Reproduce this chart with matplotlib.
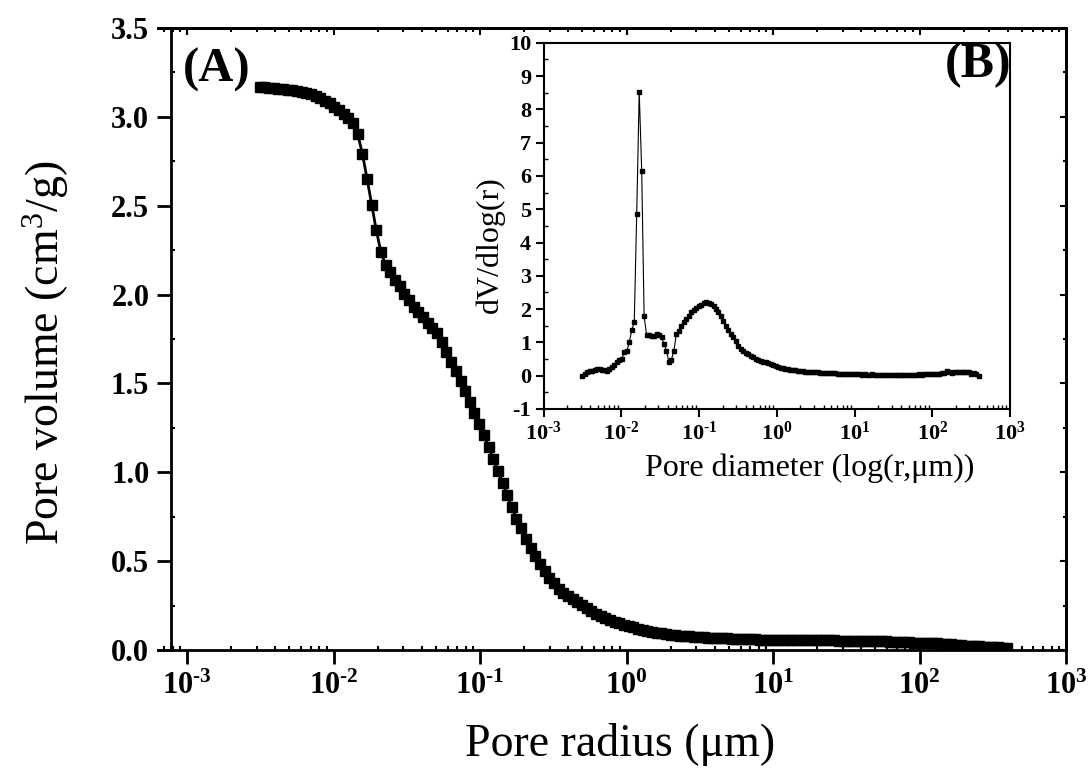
import numpy as np
import matplotlib
matplotlib.use('Agg')
import matplotlib.pyplot as plt
from matplotlib.ticker import FixedLocator, LogLocator, MultipleLocator, FuncFormatter, NullFormatter

plt.rcParams['font.family'] = ['Liberation Serif', 'DejaVu Serif']
plt.rcParams['mathtext.fontset'] = 'custom'
plt.rcParams['mathtext.rm'] = 'Liberation Serif'
plt.rcParams['mathtext.bf'] = 'Liberation Serif:bold'
plt.rcParams['mathtext.it'] = 'Liberation Serif:italic'

# pore radius, read as log10(r / um), one value per measured point
log_r = [
    -2.505, -2.473, -2.441, -2.409, -2.377, -2.346, -2.314, -2.282, -2.250, -2.218,
    -2.186, -2.154, -2.122, -2.090, -2.058, -2.027, -1.995, -1.963, -1.931, -1.899,
    -1.867, -1.835, -1.803, -1.771, -1.739, -1.708, -1.676, -1.644, -1.612, -1.580,
    -1.548, -1.516, -1.484, -1.452, -1.420, -1.389, -1.357, -1.325, -1.293, -1.261,
    -1.229, -1.197, -1.165, -1.133, -1.101, -1.070, -1.038, -1.006, -0.974, -0.942,
    -0.910, -0.878, -0.846, -0.814, -0.782, -0.751, -0.719, -0.687, -0.655, -0.623,
    -0.591, -0.559, -0.527, -0.495, -0.463, -0.432, -0.400, -0.368, -0.336, -0.304,
    -0.272, -0.240, -0.208, -0.176, -0.144, -0.113, -0.081, -0.049, -0.017, 0.015,
    0.047, 0.079, 0.111, 0.143, 0.175, 0.206, 0.238, 0.270, 0.302, 0.334,
    0.366, 0.398, 0.430, 0.462, 0.494, 0.526, 0.557, 0.589, 0.621, 0.653,
    0.685, 0.717, 0.749, 0.781, 0.813, 0.845, 0.876, 0.908, 0.940, 0.972,
    1.004, 1.036, 1.068, 1.100, 1.132, 1.164, 1.195, 1.227, 1.259, 1.291,
    1.323, 1.355, 1.387, 1.419, 1.451, 1.483, 1.514, 1.546, 1.578, 1.610,
    1.642, 1.674, 1.706, 1.738, 1.770, 1.802, 1.833, 1.865, 1.897, 1.929,
    1.961, 1.993, 2.025, 2.057, 2.089, 2.121, 2.152, 2.184, 2.216, 2.248,
    2.280, 2.312, 2.344, 2.376, 2.408, 2.440, 2.471, 2.503, 2.535, 2.567,
    2.599,
]

# cumulative pore volume (cm3/g)
volume = [
    3.168, 3.166, 3.164, 3.161, 3.158, 3.155, 3.152, 3.149, 3.145, 3.140,
    3.134, 3.127, 3.118, 3.106, 3.092, 3.076, 3.058, 3.038, 3.017, 2.994,
    2.967, 2.904, 2.793, 2.652, 2.504, 2.362, 2.238, 2.166, 2.125, 2.084,
    2.046, 2.005, 1.967, 1.930, 1.900, 1.872, 1.840, 1.812, 1.786, 1.735,
    1.677, 1.622, 1.568, 1.514, 1.456, 1.397, 1.336, 1.273, 1.209, 1.144,
    1.076, 1.010, 0.940, 0.870, 0.804, 0.738, 0.685, 0.625, 0.573, 0.527,
    0.482, 0.443, 0.406, 0.375, 0.346, 0.323, 0.303, 0.285, 0.268, 0.251,
    0.236, 0.220, 0.205, 0.192, 0.180, 0.170, 0.160, 0.150, 0.142, 0.134,
    0.127, 0.120, 0.114, 0.108, 0.103, 0.098, 0.094, 0.090, 0.087, 0.084,
    0.081, 0.079, 0.077, 0.075, 0.073, 0.071, 0.070, 0.068, 0.067, 0.066,
    0.065, 0.064, 0.063, 0.062, 0.061, 0.060, 0.060, 0.059, 0.058, 0.058,
    0.057, 0.057, 0.057, 0.056, 0.056, 0.056, 0.056, 0.056, 0.055, 0.055,
    0.055, 0.054, 0.054, 0.054, 0.053, 0.053, 0.052, 0.052, 0.051, 0.051,
    0.050, 0.050, 0.049, 0.049, 0.048, 0.047, 0.046, 0.045, 0.044, 0.043,
    0.042, 0.041, 0.040, 0.039, 0.038, 0.037, 0.035, 0.033, 0.031, 0.029,
    0.027, 0.025, 0.023, 0.022, 0.020, 0.019, 0.018, 0.017, 0.015, 0.013,
    0.012,
]

# pore size distribution dV/dlog(r) for the inset
dv_dlogr = [
    0.00, 0.05, 0.10, 0.13, 0.15, 0.17, 0.19, 0.20, 0.17, 0.17,
    0.15, 0.20, 0.25, 0.32, 0.40, 0.47, 0.50, 0.71, 0.73, 1.00,
    1.37, 1.60, 4.87, 8.53, 6.15, 1.78, 1.23, 1.22, 1.18, 1.20,
    1.25, 1.22, 1.15, 0.95, 0.75, 0.40, 0.48, 0.75, 1.25, 1.35,
    1.50, 1.60, 1.70, 1.80, 1.90, 1.97, 2.03, 2.08, 2.13, 2.17,
    2.20, 2.19, 2.16, 2.10, 2.00, 1.90, 1.80, 1.65, 1.50, 1.37,
    1.25, 1.15, 1.03, 0.90, 0.80, 0.74, 0.69, 0.64, 0.59, 0.55,
    0.51, 0.48, 0.45, 0.42, 0.40, 0.37, 0.34, 0.31, 0.28, 0.26,
    0.24, 0.22, 0.20, 0.19, 0.18, 0.17, 0.16, 0.15, 0.14, 0.13,
    0.12, 0.12, 0.11, 0.11, 0.10, 0.10, 0.09, 0.09, 0.08, 0.08,
    0.07, 0.07, 0.07, 0.06, 0.06, 0.06, 0.05, 0.05, 0.05, 0.05,
    0.04, 0.04, 0.04, 0.03, 0.04, 0.03, 0.03, 0.04, 0.03, 0.03,
    0.03, 0.02, 0.03, 0.03, 0.02, 0.03, 0.03, 0.02, 0.03, 0.03,
    0.03, 0.03, 0.02, 0.03, 0.03, 0.03, 0.04, 0.03, 0.04, 0.04,
    0.04, 0.04, 0.05, 0.06, 0.05, 0.07, 0.08, 0.15, 0.10, 0.09,
    0.10, 0.11, 0.10, 0.12, 0.11, 0.12, 0.10, 0.04, 0.09, 0.06,
    0.00,
]

decades = [1e-3, 1e-2, 1e-1, 1e0, 1e1, 1e2, 1e3]

r = 10 ** np.array(log_r)

W, H = 1090, 776
fig = plt.figure(figsize=(W / 100, H / 100), dpi=100)


def pow_label(x, pos):
    e = int(round(np.log10(x)))
    # short hyphen in the exponent, as in the original figure
    return r'$\mathbf{10^{%s}}$' % str(e).replace('-', u'\u2010')


minor_loc = LogLocator(base=10, subs=np.arange(2, 10), numticks=12)

# ---------------- main plot ----------------
ax = fig.add_axes([158 / W, 1 - 650 / H, 908 / W, 622 / H])
ax.plot(r, volume, '-s', color='black', lw=2, ms=6.5)
ax.set_xscale('log')
ax.set_xlim(10 ** -3.198, 1e3)
ax.set_ylim(0, 3.5)
ax.spines['left'].set_position(('data', 10 ** -3.106))
for s in ax.spines.values():
    s.set_linewidth(2)

ax.xaxis.set_major_locator(FixedLocator(decades))
ax.xaxis.set_minor_locator(minor_loc)
ax.xaxis.set_major_formatter(FuncFormatter(pow_label))
ax.xaxis.set_minor_formatter(NullFormatter())
ax.yaxis.set_major_locator(MultipleLocator(0.5))
ax.yaxis.set_minor_locator(MultipleLocator(0.25))
ax.yaxis.set_major_formatter(FuncFormatter(lambda v, p: '%.1f' % v))
ax.tick_params(which='major', direction='out', length=10, width=2, labelsize=22, pad=6)
ax.tick_params(which='minor', direction='in', length=3, width=1.5)
for lab in ax.get_yticklabels():
    lab.set_fontweight('bold')

# inward ticks on the top and right edges
top = ax.secondary_xaxis('top')
top.xaxis.set_major_locator(FixedLocator(decades))
top.xaxis.set_minor_locator(LogLocator(base=10, subs=np.arange(2, 10), numticks=12))
top.tick_params(which='both', direction='in', labeltop=False, width=1.5)
top.tick_params(which='major', length=5)
top.tick_params(which='minor', length=3)
right = ax.secondary_yaxis('right')
right.yaxis.set_major_locator(MultipleLocator(0.5))
right.yaxis.set_minor_locator(MultipleLocator(0.25))
right.tick_params(which='both', direction='in', labelright=False, width=1.5)
right.tick_params(which='major', length=4)
right.tick_params(which='minor', length=2)
top.spines['top'].set_linewidth(2)
right.spines['right'].set_linewidth(2)

fig.text(620 / W, 1 - 745 / H, u'Pore radius (\u03bcm)', ha='center', va='center', fontsize=33)
fig.text(46 / W, 1 - 353 / H, r'Pore volume (cm$^{\mathrm{3}}$/g)', ha='center', va='center',
         rotation=90, fontsize=33)
fig.text(217 / W, 1 - 70 / H, '(A)', ha='center', va='center', fontsize=35, fontweight='bold')

# ---------------- inset ----------------
ax2 = fig.add_axes([543.7 / W, 1 - 409 / H, 466.3 / W, 366.3 / H])
ax2.plot(r, dv_dlogr, '-s', color='black', lw=0.8, ms=3.5)
ax2.set_xscale('log')
ax2.set_xlim(1e-3, 1e3)
ax2.set_ylim(-1, 10)
for s in ax2.spines.values():
    s.set_linewidth(1.5)
ax2.xaxis.set_major_locator(FixedLocator(decades))
ax2.xaxis.set_minor_locator(LogLocator(base=10, subs=np.arange(2, 10), numticks=12))
ax2.xaxis.set_major_formatter(FuncFormatter(pow_label))
ax2.xaxis.set_minor_formatter(NullFormatter())
ax2.yaxis.set_major_locator(MultipleLocator(1))
ax2.yaxis.set_minor_locator(MultipleLocator(0.5))
ax2.yaxis.set_major_formatter(FuncFormatter(lambda v, p: '%d' % v))
ax2.tick_params(which='major', direction='out', length=6, width=1.5, labelsize=16, pad=3)
ax2.tick_params(which='minor', direction='in', length=3, width=1)
for lab in ax2.get_yticklabels():
    lab.set_fontweight('bold')

fig.text(490 / W, 1 - 245 / H, 'dV/dlog(r)', ha='center', va='center', rotation=90, fontsize=23)
fig.text(810 / W, 1 - 468 / H, u'Pore diameter (log(r,\u03bcm))', ha='center', va='center', fontsize=23)
fig.text(1011 / W, 1 - 65 / H, '(B)', ha='right', va='center', fontsize=36, fontweight='bold')

fig.savefig('out.png', dpi=100)
